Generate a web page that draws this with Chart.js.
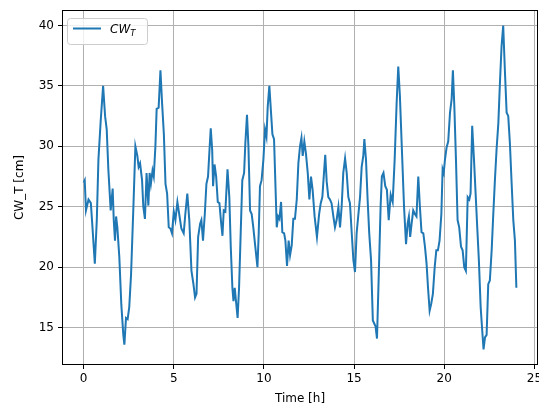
<!DOCTYPE html>
<html>
<head>
<meta charset="utf-8">
<script src="https://cdn.jsdelivr.net/npm/chart.js@4.4.1/dist/chart.umd.min.js"></script>
<style>
    html, body { margin: 0; padding: 0; background: #ffffff; }
    #wrap { width: 539px; height: 408px; }
</style>
</head>
<body>
<div id="wrap"><canvas id="chartCW" width="539" height="408"></canvas></div>
<script>
/* ==========================
   DADOS DA SÉRIE
========================== */
const hours = [
    0.00, 0.06, 0.13, 0.27, 0.40, 0.49, 0.62, 0.73, 0.82, 0.95,
    1.08, 1.19, 1.28, 1.37, 1.50, 1.61, 1.67, 1.74, 1.80, 1.87,
    1.98, 2.09, 2.20, 2.26, 2.35, 2.44, 2.53, 2.63, 2.76, 2.87,
    2.98, 3.05, 3.13, 3.24, 3.31, 3.40, 3.49, 3.59, 3.66, 3.73,
    3.82, 3.89, 3.98, 4.05, 4.16, 4.26, 4.35, 4.45, 4.54, 4.63,
    4.72, 4.81, 4.90, 5.00, 5.09, 5.20, 5.31, 5.42, 5.55, 5.64,
    5.75, 5.86, 5.98, 6.09, 6.18, 6.26, 6.35, 6.46, 6.53, 6.62,
    6.72, 6.81, 6.90, 6.98, 7.05, 7.13, 7.18, 7.26, 7.35, 7.44,
    7.53, 7.63, 7.70, 7.77, 7.86, 7.98, 8.08, 8.16, 8.25, 8.31,
    8.38, 8.45, 8.54, 8.62, 8.71, 8.80, 8.90, 8.97, 9.06, 9.14,
    9.23, 9.32, 9.41, 9.52, 9.64, 9.71, 9.78, 9.87, 9.97, 10.06,
    10.14, 10.21, 10.30, 10.38, 10.47, 10.56, 10.64, 10.71, 10.79, 10.86,
    10.95, 11.02, 11.12, 11.19, 11.28, 11.37, 11.45, 11.54, 11.63, 11.72,
    11.82, 11.91, 12.00, 12.08, 12.15, 12.24, 12.33, 12.43, 12.52, 12.61,
    12.70, 12.81, 12.94, 13.06, 13.15, 13.24, 13.33, 13.40, 13.48, 13.57,
    13.66, 13.75, 13.85, 13.94, 14.03, 14.13, 14.22, 14.31, 14.40, 14.50,
    14.59, 14.68, 14.77, 14.87, 14.96, 15.05, 15.14, 15.24, 15.33, 15.42,
    15.51, 15.57, 15.66, 15.75, 15.84, 15.94, 16.04, 16.13, 16.19, 16.27,
    16.36, 16.47, 16.54, 16.63, 16.73, 16.82, 16.92, 17.03, 17.14, 17.25,
    17.36, 17.45, 17.54, 17.66, 17.77, 17.88, 17.97, 18.04, 18.11, 18.19,
    18.28, 18.37, 18.46, 18.56, 18.65, 18.74, 18.84, 18.93, 19.02, 19.10,
    19.19, 19.28, 19.37, 19.47, 19.56, 19.65, 19.74, 19.84, 19.91, 19.97,
    20.04, 20.13, 20.22, 20.32, 20.41, 20.48, 20.56, 20.65, 20.74, 20.83,
    20.93, 21.02, 21.11, 21.20, 21.30, 21.39, 21.46, 21.55, 21.65, 21.74,
    21.83, 21.92, 22.02, 22.11, 22.18, 22.26, 22.35, 22.44, 22.53, 22.63,
    22.72, 22.81, 22.90, 23.00, 23.09, 23.18, 23.27, 23.36, 23.46, 23.55,
    23.64, 23.73, 23.83, 23.92, 24.00
];

const cwT = [
    27.0, 27.2, 24.7, 25.6, 25.3, 23.3, 20.3, 23.9, 28.9, 32.2,
    35.0, 32.5, 31.4, 28.1, 24.7, 26.5, 23.9, 22.2, 24.2, 23.3,
    20.8, 16.9, 14.4, 13.6, 15.8, 15.7, 16.7, 19.4, 25.0, 30.0,
    29.2, 28.3, 28.6, 27.2, 25.0, 24.0, 27.8, 25.1, 27.8, 26.9,
    28.0, 27.5, 30.0, 33.1, 33.2, 36.3, 33.6, 31.0, 26.9, 26.1,
    23.3, 23.2, 22.8, 24.6, 23.9, 25.4, 24.3, 23.2, 22.8, 24.4,
    26.1, 23.9, 19.7, 18.6, 17.5, 17.8, 22.5, 23.6, 23.9, 22.2,
    24.4, 26.9, 27.5, 29.7, 31.5, 29.7, 26.7, 28.5, 27.5, 25.4,
    25.3, 23.6, 22.6, 24.7, 24.6, 28.1, 25.8, 21.7, 18.3, 17.2,
    18.3, 17.2, 15.8, 18.3, 22.8, 27.2, 27.8, 30.3, 32.6, 30.0,
    24.7, 24.4, 23.3, 21.7, 20.0, 22.8, 26.7, 27.2, 28.9, 31.4,
    30.8, 33.3, 35.0, 33.1, 31.0, 30.6, 26.7, 23.3, 24.2, 24.0,
    25.4, 22.9, 22.8, 22.2, 20.1, 22.2, 21.0, 21.8, 24.0, 24.0,
    25.6, 28.6, 30.0, 30.7, 29.2, 30.4, 29.4, 27.8, 25.6, 27.5,
    26.4, 24.2, 22.5, 24.4, 25.3, 25.8, 27.8, 29.3, 27.1, 25.8,
    25.6, 25.3, 24.2, 23.3, 23.9, 25.0, 23.3, 25.0, 27.8, 29.0,
    27.8, 25.8, 25.3, 22.8, 20.6, 19.6, 22.8, 24.4, 25.8, 28.3,
    29.2, 30.6, 28.9, 25.6, 22.8, 20.6, 15.6, 15.3, 15.1, 14.1,
    18.9, 25.0, 27.5, 27.8, 26.7, 26.4, 23.9, 26.0, 25.4, 28.9,
    33.6, 36.6, 34.2, 29.4, 25.0, 21.9, 23.6, 24.2, 22.5, 23.6,
    24.7, 24.4, 24.2, 27.5, 25.0, 22.9, 22.8, 21.7, 20.3, 18.3,
    16.4, 17.0, 17.8, 20.0, 21.4, 21.4, 22.2, 24.4, 28.1, 27.8,
    28.9, 29.9, 30.4, 32.8, 33.9, 36.3, 33.3, 28.9, 23.9, 23.3,
    21.7, 21.4, 20.0, 19.7, 25.8, 25.6, 26.1, 31.7, 28.9, 26.1,
    23.3, 20.6, 16.7, 14.7, 13.2, 14.2, 14.4, 18.6, 18.9, 21.4,
    24.4, 27.2, 29.7, 31.9, 35.3, 38.3, 40.0, 36.4, 32.8, 32.5,
    30.3, 27.2, 23.9, 22.2, 18.3
];

const xTicks = [0, 5, 10, 15, 20, 25];
const yTicks = [15, 20, 25, 30, 35, 40];

const legendMain = "CW";
const legendSub = "T";
const xTitle = "Time [h]";
const yTitle = "CW_T [cm]";

/* ==========================
   ESTILO
========================== */
const AZUL = "#1f77b4";
const GRADE = "#b0b0b0";
const FONTE = "'DejaVu Sans', sans-serif";

/* ==========================
   MOLDURA + LEGENDA (estilo matplotlib)
========================== */
const moldura = {
    id: "moldura",
    afterDatasetsDraw(chart) {
        const { ctx, chartArea: a } = chart;
        ctx.save();

        // quatro bordas do eixo
        ctx.strokeStyle = "#000000";
        ctx.lineWidth = 1;
        ctx.strokeRect(a.left + 0.5, a.top + 0.5, a.right - a.left - 1, a.bottom - a.top - 1);

        // caixa da legenda
        const bx = 67, by = 18, bw = 80, bh = 26, r = 3;
        ctx.beginPath();
        ctx.roundRect(bx + 0.5, by + 0.5, bw, bh, r);
        ctx.fillStyle = "rgba(255,255,255,0.8)";
        ctx.fill();
        ctx.strokeStyle = "#cccccc";
        ctx.stroke();

        // amostra da linha
        ctx.beginPath();
        ctx.moveTo(73, 28.5);
        ctx.lineTo(101, 28.5);
        ctx.strokeStyle = AZUL;
        ctx.lineWidth = 2;
        ctx.stroke();

        // CW com subscrito T
        ctx.fillStyle = "#000000";
        ctx.textBaseline = "alphabetic";
        ctx.font = "oblique 12px " + FONTE;
        ctx.fillText(legendMain, 110, 33);
        const w = ctx.measureText(legendMain).width;
        ctx.font = "oblique 8.5px " + FONTE;
        ctx.fillText(legendSub, 110 + w, 35.5);

        ctx.restore();
    }
};

/* ==========================
   CHART - LINHA
========================== */
function renderLineChart(id) {
    const ctx = document.getElementById(id);
    if (!ctx) return;

    const pontos = hours.map((h, i) => ({ x: h, y: cwT[i] }));
    const fonteTicks = { family: FONTE, size: 12 };

    return new Chart(ctx, {
        type: "line",
        data: {
            datasets: [{
                label: legendMain + "_" + legendSub,
                data: pontos,
                borderColor: AZUL,
                borderWidth: 2,
                pointRadius: 0,
                tension: 0,
                fill: false
            }]
        },
        options: {
            responsive: false,
            animation: false,
            events: [],
            layout: { padding: { top: 10, right: 1, left: 0, bottom: 0 } },
            plugins: {
                legend: { display: false },
                tooltip: { enabled: false }
            },
            scales: {
                x: {
                    type: "linear",
                    min: -1.2,
                    max: 25.2,
                    afterBuildTicks: (s) => { s.ticks = xTicks.map(v => ({ value: v })); },
                    // área fixa: sem o recuo automático do rótulo "25"
                    afterFit: (s) => { s.height = 43; s.paddingLeft = 0; s.paddingRight = 0; },
                    border: { display: false },
                    grid: { color: GRADE, lineWidth: 1, tickColor: "#000000", tickLength: 4, tickWidth: 1 },
                    ticks: { color: "#000000", font: fonteTicks, padding: 3, maxRotation: 0 },
                    title: {
                        display: true,
                        text: xTitle,
                        color: "#000000",
                        font: fonteTicks,
                        padding: { top: 0, bottom: 2 }
                    }
                },
                y: {
                    type: "linear",
                    min: 11.91,
                    max: 41.28,
                    afterBuildTicks: (s) => { s.ticks = yTicks.map(v => ({ value: v })); },
                    afterFit: (s) => { s.width = 62; s.paddingTop = 0; s.paddingBottom = 0; },
                    border: { display: false },
                    grid: { color: GRADE, lineWidth: 1, tickColor: "#000000", tickLength: 4, tickWidth: 1 },
                    ticks: { color: "#000000", font: fonteTicks, padding: 4 },
                    title: {
                        display: true,
                        text: yTitle,
                        color: "#000000",
                        font: fonteTicks,
                        padding: { top: 13, bottom: 0 }
                    }
                }
            }
        },
        plugins: [moldura]
    });
}

let charts = {};
charts.cw = renderLineChart("chartCW");
</script>
</body>
</html>
